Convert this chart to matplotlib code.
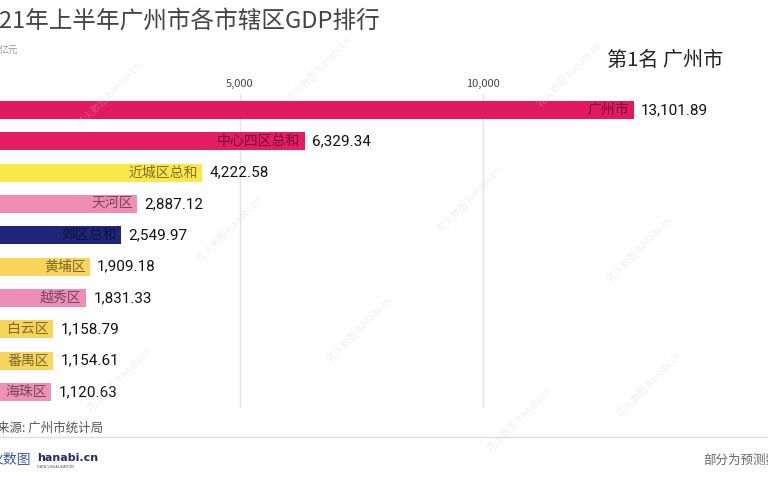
import numpy as np
import matplotlib.pyplot as plt
import matplotlib.colors as mcolors

plt.rcParams['font.family'] = ['Noto Sans CJK SC', 'DejaVu Sans']

# données (亿元)
districts = ["广州市", "中心四区总和", "近城区总和", "天河区", "郊区总和",
             "黄埔区", "越秀区", "白云区", "番禺区", "海珠区"]
gdp = [13101.89, 6329.34, 4222.58, 2887.12, 2549.97,
       1909.18, 1831.33, 1158.79, 1154.61, 1120.63]
colors = ["#E2195F", "#E41D62", "#FBE64B", "#F08DB3", "#1F2578",
          "#F9D55C", "#EE8EB6", "#F9D45C", "#F8D460", "#EE91B5"]
ticks = [0, 5000, 10000]
tick_labels = ["0", "5,000", "10,000"]

W, H = 768, 480
fig = plt.figure(figsize=(W / 100, H / 100), dpi=100)

def px(x, y):
    return x / W, 1 - y / H

# axe : 0 -> x=-3px, 5000 -> 240px
xmax = 16000
left = -3
width = xmax * 243 / 5000
top, bottom = 94.3, 407.6
ax = fig.add_axes([left / W, 1 - bottom / H, width / W, (bottom - top) / H])

y = np.arange(len(districts))
ax.barh(y, gdp, height=0.58, color=colors, zorder=2)
ax.set_xlim(0, xmax)
ax.set_ylim(len(districts) - 0.5, -0.5)

for i, (name, v, c) in enumerate(zip(districts, gdp, colors)):
    dark = np.array(mcolors.to_rgb(c)) * 0.5
    ax.text(v - 90, i, name, ha="right", va="center", fontsize=10,
            color=dark, zorder=3)
    ax.text(v + 150, i, "{:,.2f}".format(v), ha="left", va="center",
            fontsize=11, color="#111111", family=["Roboto", "DejaVu Sans"], zorder=3)

ax.xaxis.tick_top()
ax.set_xticks(ticks)
ax.set_xticklabels(tick_labels, fontsize=8, color="#444444")
ax.tick_params(axis="x", length=0, pad=4)
ax.set_yticks([])
ax.grid(axis="x", color="#e4e4e4", linewidth=1, zorder=0)
for s in ax.spines.values():
    s.set_visible(False)

# textes
fig.text(*px(-27, 21), "2021年上半年广州市各市辖区GDP排行", fontsize=17,
         color="#444444", va="center", ha="left")
fig.text(*px(-1, 51), "亿元", fontsize=7, color="#999999", va="center")
fig.text(*px(607, 60), "第1名 广州市", fontsize=14.5, color="#222222", va="center")
fig.text(*px(-3, 428), "来源: 广州市统计局", fontsize=9, color="#555555", va="center")
fig.add_artist(plt.Line2D([0, 1], [1 - 437 / H, 1 - 437 / H],
                          color="#e0e0e0", linewidth=1, transform=fig.transFigure))
fig.text(*px(-11, 460), "火数图", fontsize=10, color="#3a5a9a", va="center")
fig.text(*px(37, 458), "hanabi.cn", fontsize=8, color="#1f2a6b", va="center",
         fontweight="bold", family=["DejaVu Sans"])
fig.text(*px(37, 467), "DATA VISUALIZATION", fontsize=2.5, color="#555555", va="center",
         family=["DejaVu Sans"])
fig.text(*px(703, 460), "部分为预测数据", fontsize=9, color="#666666", va="center")

# filigrane
for wx, wy in [(110, 95), (320, 70), (570, 75), (230, 230), (470, 200),
               (640, 250), (120, 380), (360, 330), (650, 385), (520, 420)]:
    fig.text(*px(wx, wy), "花火数图 hanabi.cn", fontsize=7, color="#cccccc",
             alpha=0.3, rotation=45, ha="center", va="center")

fig.savefig("out.png", dpi=100)
